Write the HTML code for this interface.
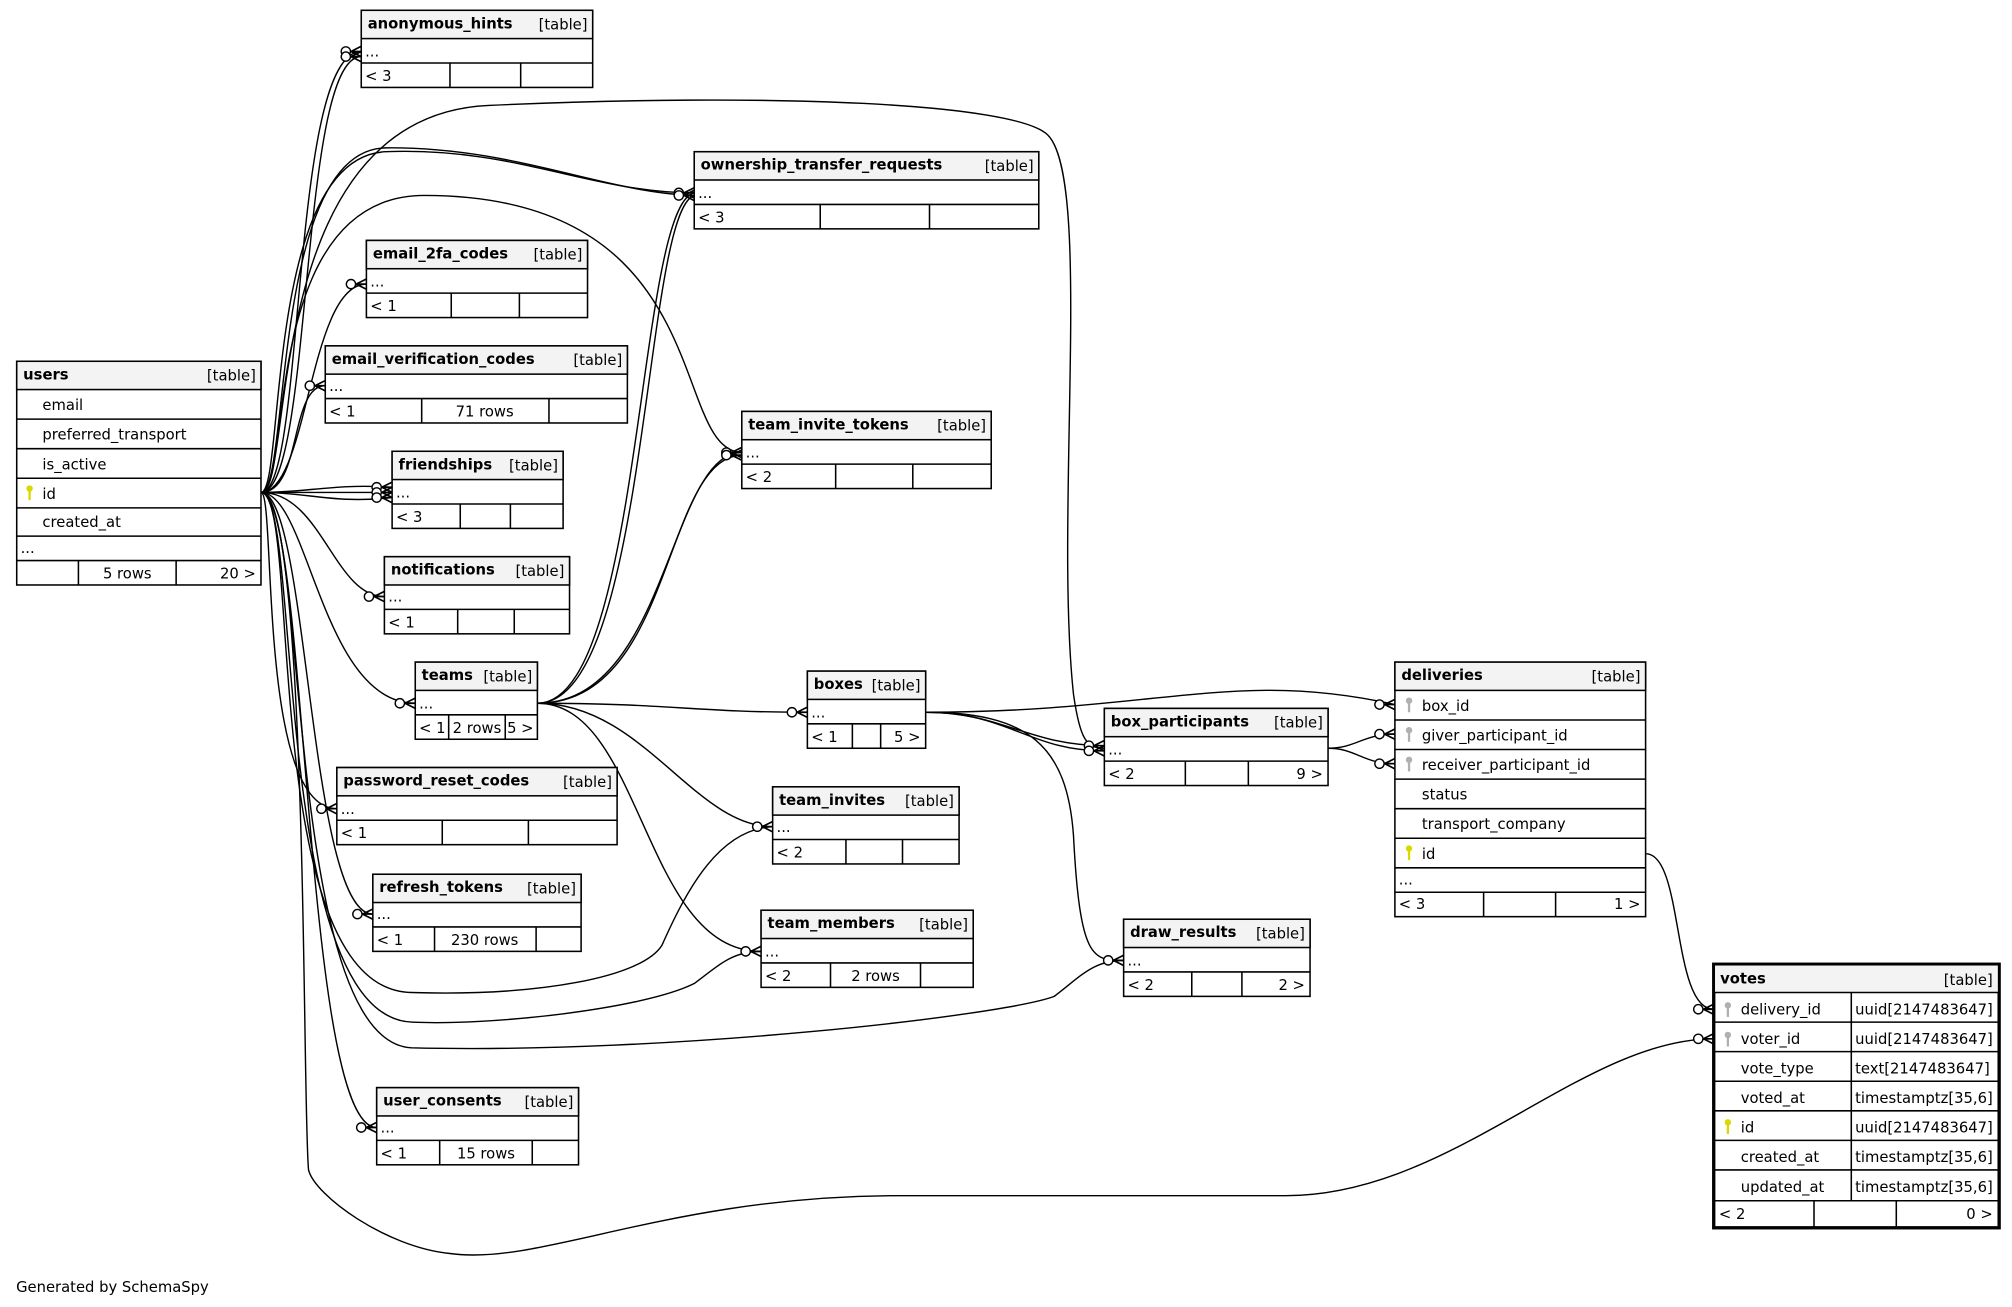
<!DOCTYPE html>
<html><head><meta charset="utf-8"><style>
html,body{margin:0;padding:0;background:#fff;}
svg{display:block}
text{font-family:"DejaVu Sans","Liberation Sans",sans-serif;font-size:11.5px;fill:#000}
.b{font-weight:bold}
.r{text-anchor:end}
.c{text-anchor:middle}
.t rect{fill:#fff;stroke:#000;stroke-width:1.2}
.t rect.h{fill:#f3f3f3}
.t line{stroke:#000;stroke-width:1.2}
.e path{fill:none;stroke:#000;stroke-width:1.1}
.m circle{fill:#fff;stroke:#000;stroke-width:1.1}
.m path{fill:none;stroke:#000;stroke-width:1.3}
</style></head><body>
<svg width="2012" height="1307" viewBox="0 0 1565 1016.6" xmlns="http://www.w3.org/2000/svg">
<defs>
<g id="mk" class="m"><circle cx="-12" cy="0" r="3.6"/><path d="M-8,0 L0,-4 M-8,0 L0,0 M-8,0 L0,4"/></g>
<g id="ky"><circle cx="0" cy="-3" r="2.5"/><rect x="-0.9" y="-1" width="1.8" height="7"/></g>
</defs>

<!-- edges -->
<g class="e">
<path d="M203,383 C238,383 225,40 281,40"/>
<path d="M203,383 C244,383 232,44 281,44"/>
<path d="M203,383 C222,383 205,122 300,118 C400,114 460,150 540,150"/>
<path d="M203,383 C226,383 210,116 300,115 C400,114 470,150 540,152"/>
<path d="M203,383 C230,383 200,90 380,82 C600,72 790,80 815,105 C850,140 820,400 835,540 C840,575 845,582 859,582"/>
<path d="M203,383 C228,383 200,152 330,152 C560,152 520,350 577,352"/>
<path d="M203,383 C240,383 240,221 285,221"/>
<path d="M203,383 C235,383 225,300 253,300"/>
<path d="M203,383 L305,383"/>
<path d="M203,383 C240,383 260,376 305,379"/>
<path d="M203,383 C240,383 260,392 305,387"/>
<path d="M203,383 C250,383 260,464 299,464"/>
<path d="M203,383 C240,383 250,547 323,547"/>
<path d="M203,383 C215,383 200,629 262,629"/>
<path d="M203,383 C240,383 240,711 290,711"/>
<path d="M203,383 C240,383 235,877 293,877"/>
<path d="M203,383 C235,383 200,770 320,772 C420,775 500,760 515,735 C535,690 560,645 601,643"/>
<path d="M203,383 C235,383 210,790 320,795 C380,798 500,785 540,765 C560,750 570,740 592,740"/>
<path d="M203,383 C240,383 220,810 320,815 C520,820 780,790 820,775 C840,760 850,747 874,747"/>
<path d="M203,383 C240,383 235,860 240,910 C245,930 300,970 350,975 C420,985 520,930 700,930 L1000,930 C1130,930 1230,808 1333,808"/>
<path d="M418,547 C500,547 495,160 540,150"/>
<path d="M418,547 C505,547 500,165 540,152"/>
<path d="M418,547 C520,547 520,352 577,352"/>
<path d="M418,547 C525,547 515,356 577,354"/>
<path d="M418,547 C520,547 540,554 628,554"/>
<path d="M418,547 C500,547 540,643 601,643"/>
<path d="M418,547 C500,547 500,740 592,740"/>
<path d="M720,554 C900,554 960,520 1085,548"/>
<path d="M720,554 C780,554 800,580 859,580"/>
<path d="M720,554 C785,554 800,584 859,584"/>
<path d="M720,554 C800,554 830,580 835,650 C840,747 850,747 874,747"/>
<path d="M1033,582 C1055,582 1060,571 1085,571"/>
<path d="M1033,582 C1055,582 1060,594 1085,594"/>
<path d="M1280,664 C1310,664 1300,785 1333,785"/>
</g>
<g>
<use href="#mk" x="281" y="40"/><use href="#mk" x="281" y="44"/>
<use href="#mk" x="540" y="150"/><use href="#mk" x="540" y="152"/>
<use href="#mk" x="285" y="221"/><use href="#mk" x="253" y="300"/>
<use href="#mk" x="577" y="352"/><use href="#mk" x="577" y="354"/>
<use href="#mk" x="305" y="379"/><use href="#mk" x="305" y="383"/><use href="#mk" x="305" y="387"/>
<use href="#mk" x="299" y="464"/><use href="#mk" x="323" y="547"/><use href="#mk" x="628" y="554"/>
<use href="#mk" x="859" y="580"/><use href="#mk" x="859" y="584"/>
<use href="#mk" x="262" y="629"/><use href="#mk" x="601" y="643"/><use href="#mk" x="290" y="711"/>
<use href="#mk" x="592" y="740"/><use href="#mk" x="874" y="747"/><use href="#mk" x="293" y="877"/>
<use href="#mk" x="1085" y="548"/><use href="#mk" x="1085" y="571"/><use href="#mk" x="1085" y="594"/>
<use href="#mk" x="1333" y="785"/><use href="#mk" x="1333" y="808"/>
</g>

<!-- simple tables -->
<g class="t">
<rect x="281" y="8" width="180" height="60"/><rect class="h" x="281" y="8" width="180" height="22"/>
<line x1="281" y1="49" x2="461" y2="49"/><line x1="350" y1="49" x2="350" y2="68"/><line x1="405" y1="49" x2="405" y2="68"/>
<text x="286" y="22" class="b">anonymous_hints</text><text x="457" y="23" class="r">[table]</text>
<text x="284" y="44">...</text><text x="284" y="63">&lt; 3</text>

<rect x="540" y="118" width="268" height="60"/><rect class="h" x="540" y="118" width="268" height="22"/>
<line x1="540" y1="159" x2="808" y2="159"/><line x1="638" y1="159" x2="638" y2="178"/><line x1="723" y1="159" x2="723" y2="178"/>
<text x="545" y="132" class="b">ownership_transfer_requests</text><text x="804" y="133" class="r">[table]</text>
<text x="543" y="154">...</text><text x="543" y="173">&lt; 3</text>

<rect x="285" y="187" width="172" height="60"/><rect class="h" x="285" y="187" width="172" height="22"/>
<line x1="285" y1="228" x2="457" y2="228"/><line x1="351" y1="228" x2="351" y2="247"/><line x1="404" y1="228" x2="404" y2="247"/>
<text x="290" y="201" class="b">email_2fa_codes</text><text x="453" y="202" class="r">[table]</text>
<text x="288" y="223">...</text><text x="288" y="242">&lt; 1</text>

<rect x="253" y="269" width="235" height="60"/><rect class="h" x="253" y="269" width="235" height="22"/>
<line x1="253" y1="310" x2="488" y2="310"/><line x1="328" y1="310" x2="328" y2="329"/><line x1="427" y1="310" x2="427" y2="329"/>
<text x="258" y="283" class="b">email_verification_codes</text><text x="484" y="284" class="r">[table]</text>
<text x="256" y="304">...</text><text x="256" y="324">&lt; 1</text><text x="377" y="324" class="c">71 rows</text>

<rect x="577" y="320" width="194" height="60"/><rect class="h" x="577" y="320" width="194" height="22"/>
<line x1="577" y1="361" x2="771" y2="361"/><line x1="650" y1="361" x2="650" y2="380"/><line x1="710" y1="361" x2="710" y2="380"/>
<text x="582" y="334" class="b">team_invite_tokens</text><text x="767" y="335" class="r">[table]</text>
<text x="580" y="356">...</text><text x="580" y="375">&lt; 2</text>

<rect x="305" y="351" width="133" height="60"/><rect class="h" x="305" y="351" width="133" height="22"/>
<line x1="305" y1="392" x2="438" y2="392"/><line x1="358" y1="392" x2="358" y2="411"/><line x1="397" y1="392" x2="397" y2="411"/>
<text x="310" y="365" class="b">friendships</text><text x="434" y="366" class="r">[table]</text>
<text x="308" y="387">...</text><text x="308" y="406">&lt; 3</text>

<rect x="299" y="433" width="144" height="60"/><rect class="h" x="299" y="433" width="144" height="22"/>
<line x1="299" y1="474" x2="443" y2="474"/><line x1="356" y1="474" x2="356" y2="493"/><line x1="400" y1="474" x2="400" y2="493"/>
<text x="304" y="447" class="b">notifications</text><text x="439" y="448" class="r">[table]</text>
<text x="302" y="468">...</text><text x="302" y="488">&lt; 1</text>

<rect x="323" y="515" width="95" height="60"/><rect class="h" x="323" y="515" width="95" height="22"/>
<line x1="323" y1="556" x2="418" y2="556"/><line x1="349" y1="556" x2="349" y2="575"/><line x1="393" y1="556" x2="393" y2="575"/>
<text x="328" y="529" class="b">teams</text><text x="414" y="530" class="r">[table]</text>
<text x="326" y="551">...</text><text x="326" y="570">&lt; 1</text><text x="371" y="570" class="c">2 rows</text><text x="415" y="570" class="r">5 &gt;</text>

<rect x="628" y="522" width="92" height="60"/><rect class="h" x="628" y="522" width="92" height="22"/>
<line x1="628" y1="563" x2="720" y2="563"/><line x1="663" y1="563" x2="663" y2="582"/><line x1="685" y1="563" x2="685" y2="582"/>
<text x="633" y="536" class="b">boxes</text><text x="716" y="537" class="r">[table]</text>
<text x="631" y="558">...</text><text x="631" y="577">&lt; 1</text><text x="716" y="577" class="r">5 &gt;</text>

<rect x="859" y="551" width="174" height="60"/><rect class="h" x="859" y="551" width="174" height="22"/>
<line x1="859" y1="592" x2="1033" y2="592"/><line x1="922" y1="592" x2="922" y2="611"/><line x1="971" y1="592" x2="971" y2="611"/>
<text x="864" y="565" class="b">box_participants</text><text x="1029" y="566" class="r">[table]</text>
<text x="862" y="587">...</text><text x="862" y="606">&lt; 2</text><text x="1029" y="606" class="r">9 &gt;</text>

<rect x="262" y="597" width="218" height="60"/><rect class="h" x="262" y="597" width="218" height="22"/>
<line x1="262" y1="638" x2="480" y2="638"/><line x1="344" y1="638" x2="344" y2="657"/><line x1="411" y1="638" x2="411" y2="657"/>
<text x="267" y="611" class="b">password_reset_codes</text><text x="476" y="612" class="r">[table]</text>
<text x="265" y="633">...</text><text x="265" y="652">&lt; 1</text>

<rect x="601" y="612" width="145" height="60"/><rect class="h" x="601" y="612" width="145" height="22"/>
<line x1="601" y1="653" x2="746" y2="653"/><line x1="658" y1="653" x2="658" y2="672"/><line x1="702" y1="653" x2="702" y2="672"/>
<text x="606" y="626" class="b">team_invites</text><text x="742" y="627" class="r">[table]</text>
<text x="604" y="647">...</text><text x="604" y="667">&lt; 2</text>

<rect x="290" y="680" width="162" height="60"/><rect class="h" x="290" y="680" width="162" height="22"/>
<line x1="290" y1="721" x2="452" y2="721"/><line x1="338" y1="721" x2="338" y2="740"/><line x1="417" y1="721" x2="417" y2="740"/>
<text x="295" y="694" class="b">refresh_tokens</text><text x="448" y="695" class="r">[table]</text>
<text x="293" y="715">...</text><text x="293" y="735">&lt; 1</text><text x="377" y="735" class="c">230 rows</text>

<rect x="592" y="708" width="165" height="60"/><rect class="h" x="592" y="708" width="165" height="22"/>
<line x1="592" y1="749" x2="757" y2="749"/><line x1="646" y1="749" x2="646" y2="768"/><line x1="716" y1="749" x2="716" y2="768"/>
<text x="597" y="722" class="b">team_members</text><text x="753" y="723" class="r">[table]</text>
<text x="595" y="744">...</text><text x="595" y="763">&lt; 2</text><text x="681" y="763" class="c">2 rows</text>

<rect x="874" y="715" width="145" height="60"/><rect class="h" x="874" y="715" width="145" height="22"/>
<line x1="874" y1="756" x2="1019" y2="756"/><line x1="927" y1="756" x2="927" y2="775"/><line x1="966" y1="756" x2="966" y2="775"/>
<text x="879" y="729" class="b">draw_results</text><text x="1015" y="730" class="r">[table]</text>
<text x="877" y="751">...</text><text x="877" y="770">&lt; 2</text><text x="1015" y="770" class="r">2 &gt;</text>

<rect x="293" y="846" width="157" height="60"/><rect class="h" x="293" y="846" width="157" height="22"/>
<line x1="293" y1="887" x2="450" y2="887"/><line x1="342" y1="887" x2="342" y2="906"/><line x1="414" y1="887" x2="414" y2="906"/>
<text x="298" y="860" class="b">user_consents</text><text x="446" y="861" class="r">[table]</text>
<text x="296" y="881">...</text><text x="296" y="901">&lt; 1</text><text x="378" y="901" class="c">15 rows</text>

<!-- users -->
<rect x="13" y="281" width="190" height="174"/><rect class="h" x="13" y="281" width="190" height="22"/>
<line x1="13" y1="326" x2="203" y2="326"/><line x1="13" y1="349" x2="203" y2="349"/><line x1="13" y1="372" x2="203" y2="372"/>
<line x1="13" y1="395" x2="203" y2="395"/><line x1="13" y1="417" x2="203" y2="417"/><line x1="13" y1="436" x2="203" y2="436"/>
<line x1="61" y1="436" x2="61" y2="455"/><line x1="137" y1="436" x2="137" y2="455"/>
<text x="18" y="295" class="b">users</text><text x="199" y="296" class="r">[table]</text>
<text x="33" y="319">email</text><text x="33" y="342">preferred_transport</text><text x="33" y="365">is_active</text>
<use href="#ky" x="23" y="383" fill="#d9d900"/><text x="33" y="388">id</text>
<text x="33" y="410">created_at</text><text x="16" y="430">...</text>
<text x="99" y="450" class="c">5 rows</text><text x="199" y="450" class="r">20 &gt;</text>

<!-- deliveries -->
<rect x="1085" y="515" width="195" height="198"/><rect class="h" x="1085" y="515" width="195" height="22"/>
<line x1="1085" y1="560" x2="1280" y2="560"/><line x1="1085" y1="583" x2="1280" y2="583"/><line x1="1085" y1="606" x2="1280" y2="606"/>
<line x1="1085" y1="629" x2="1280" y2="629"/><line x1="1085" y1="652" x2="1280" y2="652"/><line x1="1085" y1="675" x2="1280" y2="675"/>
<line x1="1085" y1="694" x2="1280" y2="694"/><line x1="1154" y1="694" x2="1154" y2="713"/><line x1="1210" y1="694" x2="1210" y2="713"/>
<text x="1090" y="529" class="b">deliveries</text><text x="1276" y="530" class="r">[table]</text>
<use href="#ky" x="1096" y="548" fill="#b0b0b0"/><text x="1106" y="553">box_id</text>
<use href="#ky" x="1096" y="571" fill="#b0b0b0"/><text x="1106" y="576">giver_participant_id</text>
<use href="#ky" x="1096" y="594" fill="#b0b0b0"/><text x="1106" y="599">receiver_participant_id</text>
<text x="1106" y="622">status</text><text x="1106" y="645">transport_company</text>
<use href="#ky" x="1096" y="663" fill="#d9d900"/><text x="1106" y="668">id</text>
<text x="1088" y="688">...</text><text x="1088" y="707">&lt; 3</text><text x="1276" y="707" class="r">1 &gt;</text>

<!-- votes -->
<rect x="1333" y="750" width="222" height="205" style="stroke-width:2.6"/><rect class="h" x="1334" y="751" width="220" height="21" style="stroke:none"/>
<line x1="1333" y1="772" x2="1555" y2="772"/><line x1="1333" y1="795" x2="1555" y2="795"/><line x1="1333" y1="818" x2="1555" y2="818"/>
<line x1="1333" y1="841" x2="1555" y2="841"/><line x1="1333" y1="864" x2="1555" y2="864"/><line x1="1333" y1="887" x2="1555" y2="887"/>
<line x1="1333" y1="910" x2="1555" y2="910"/><line x1="1333" y1="934" x2="1555" y2="934"/>
<line x1="1440" y1="772" x2="1440" y2="934"/><line x1="1411" y1="934" x2="1411" y2="955"/><line x1="1475" y1="934" x2="1475" y2="955"/>
<text x="1338" y="765" class="b">votes</text><text x="1550" y="766" class="r">[table]</text>
<use href="#ky" x="1344" y="785" fill="#b0b0b0"/><text x="1354" y="789">delivery_id</text><text x="1443" y="789">uuid[2147483647]</text>
<use href="#ky" x="1344" y="808" fill="#b0b0b0"/><text x="1354" y="812">voter_id</text><text x="1443" y="812">uuid[2147483647]</text>
<text x="1354" y="835">vote_type</text><text x="1443" y="835">text[2147483647]</text>
<text x="1354" y="858">voted_at</text><text x="1443" y="858">timestamptz[35,6]</text>
<use href="#ky" x="1344" y="876" fill="#d9d900"/><text x="1354" y="881">id</text><text x="1443" y="881">uuid[2147483647]</text>
<text x="1354" y="904">created_at</text><text x="1443" y="904">timestamptz[35,6]</text>
<text x="1354" y="927">updated_at</text><text x="1443" y="927">timestamptz[35,6]</text>
<text x="1337" y="948">&lt; 2</text><text x="1550" y="948" class="r">0 &gt;</text>
</g>
<text x="12.5" y="1005">Generated by SchemaSpy</text>
</svg>
</body></html>
